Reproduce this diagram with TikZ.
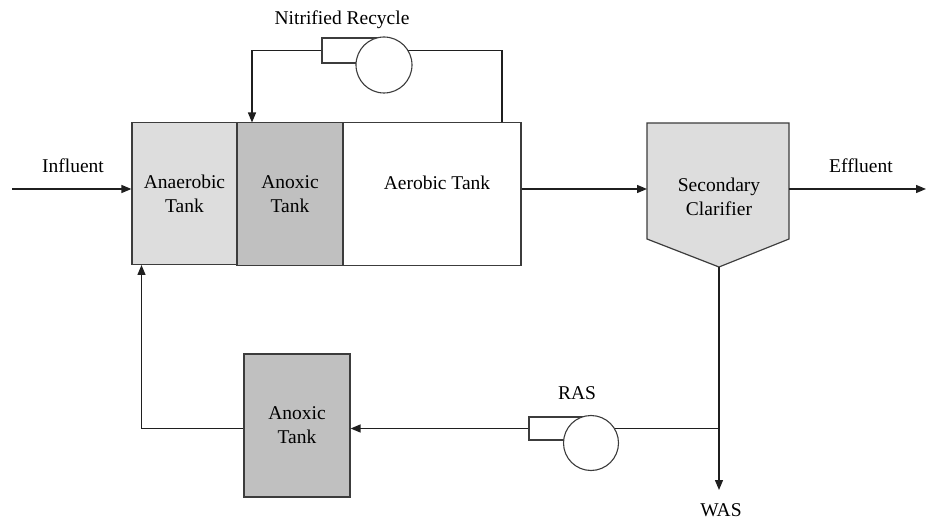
\documentclass[tikz,border=0pt]{standalone}
\usepackage{fontspec}
\setmainfont{Liberation Serif}
\usetikzlibrary{arrows.meta}
\definecolor{lightfill}{HTML}{DDDDDD}
\definecolor{darkfill}{HTML}{C0C0C0}
\definecolor{edge}{HTML}{3C3C3C}
\begin{document}
\begin{tikzpicture}[x=1pt,y=-1pt,
  pipe/.style={line width=1.3pt, draw=black!88},
  arr/.style={pipe, -{Triangle[length=10pt,width=8pt]}},
  tank/.style={draw=edge, line width=1.2pt, inner sep=0pt,
    font=\rmfamily\fontsize{19.5}{24}\selectfont, align=center},
  lbl/.style={font=\rmfamily\fontsize{19.5}{24}\selectfont, align=center, inner sep=0pt},
  pumpbox/.style={draw=edge, line width=1.1pt, inner sep=0pt},
  pumpcirc/.style={circle, draw=edge, line width=1.1pt, fill=white, inner sep=0pt}
]
\useasboundingbox (0,0) rectangle (926,521);

% main tanks
\node[tank, fill=lightfill, minimum width=105pt, minimum height=142pt] (anaer) at (184.5,193.5) {Anaerobic\\Tank};
\node[tank, fill=darkfill, minimum width=106pt, minimum height=143pt] (anox) at (290,194) {Anoxic\\Tank};
\node[tank, fill=white, minimum width=178pt, minimum height=143pt] (aer) at (432,194) {};
\node[lbl] (aerlbl) at (437,183) {Aerobic Tank};

% secondary clarifier
\draw[draw=edge, line width=1.2pt, fill=lightfill] (647,123) -- (789,123) -- (789,239) -- (719,267) -- (647,239) -- cycle;
\node[lbl] (clar) at (719,197) {Secondary\\Clarifier};
\coordinate (clarIn) at (647,189);
\coordinate (clarOut) at (789,189);
\coordinate (clarTip) at (719,267);

% lower anoxic tank
\node[tank, fill=darkfill, minimum width=106pt, minimum height=143pt] (anox2) at (297,425.5) {Anoxic\\Tank};

% pump boxes
\node[pumpbox, minimum width=62pt, minimum height=25pt] (nrbox) at (353,50.5) {};
\node[pumpbox, minimum width=62pt, minimum height=23pt] (rasbox) at (560,428.5) {};

% coordinates
\coordinate (inf) at (12,189);
\coordinate (nrIn) at (252,122.5);
\coordinate (aerOut) at (502,122.5);
\coordinate (effEnd) at (926,189);
\coordinate (junc) at (719,428.5);
\coordinate (wasEnd) at (719,490);
\coordinate (retIn) at (141.5,265);

% connectors
\draw[arr] (inf) -- (inf -| anaer.west);
\draw[arr] (aer.east |- inf) -- (clarIn);
\draw[arr] (clarOut) -- (effEnd);
\draw[pipe] (aerOut) |- (nrbox.east);
\draw[arr] (nrbox.west) -| (nrIn);
\draw[arr] (clarTip) -- (wasEnd);
\draw[pipe] (junc) -- (rasbox.east);
\draw[arr] (rasbox.west) -- (rasbox.west -| anox2.east);
\draw[arr] (anox2.west |- rasbox.west) -| (retIn);

% pump circles
\node[pumpcirc, minimum size=56pt] (nrp) at (384,65) {};
\node[pumpcirc, minimum size=55pt] (rasp) at (591,443) {};

% labels
\node[lbl] (lblInf) at (73,166) {Influent};
\node[lbl] (lblEff) at (861,166) {Effluent};
\node[lbl] (lblNR) at (342,20) {Nitrified Recycle};
\node[lbl] (lblRAS) at (577,393) {RAS};
\node[lbl] (lblWAS) at (721,510) {WAS};
\end{tikzpicture}
\end{document}
